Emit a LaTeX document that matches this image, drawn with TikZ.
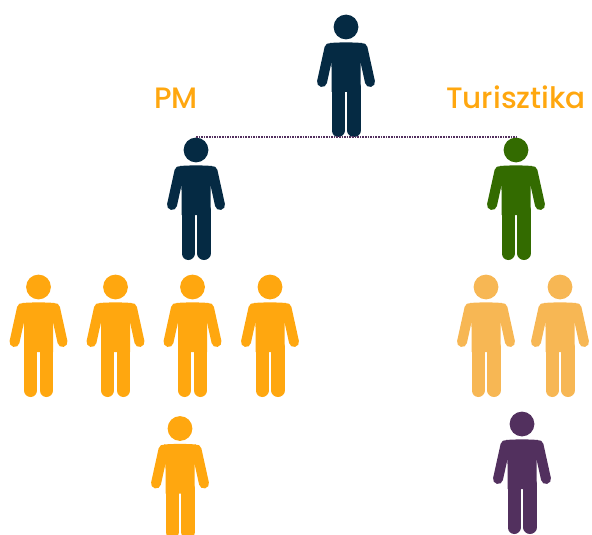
\documentclass[tikz,border=0pt]{standalone}
\usepackage{fontspec}
\setmainfont{Poppins Medium}
\definecolor{navyColor}{RGB}{5, 42, 67}
\definecolor{greenColor}{RGB}{51, 107, 0}
\definecolor{orangeColor}{RGB}{255, 167, 15}
\definecolor{paleColor}{RGB}{247, 183, 84}
\definecolor{purpleColor}{RGB}{82, 48, 94}
\tikzset{
    head/.style={circle, fill=#1, inner sep=0pt, minimum size=24.8pt},
    team/.style={text=orangeColor, font=\fontsize{29.5}{36}\selectfont, inner sep=0pt, anchor=base},
    % one standing figure, origin at the centre of the head
    person/.pic={
        \node[head=#1] (-head) at (0,0) {};
        \fill[#1] (-16,16) .. controls (-6,15.2) and (6,15.2) .. (16,16) -- (14.5,40) -- (14.5,65) -- (-14.5,65) -- (-14.5,40) -- cycle;
        \draw[#1, line width=10pt, line cap=round] (-16.5,21) -- (-24,55);
        \draw[#1, line width=10pt, line cap=round] (16.5,21) -- (24,55);
        \draw[#1, line width=13.1pt, line cap=round] (-7.95,60) -- (-7.95,103.45);
        \draw[#1, line width=13.1pt, line cap=round] (7.95,60) -- (7.95,103.45);
    }
}
\begin{document}
\begin{tikzpicture}[x=1pt, y=-1pt]
    \useasboundingbox (0,0) rectangle (592,535);
    \clip (0,0) rectangle (592,535);
    % Figures
    \pic (boss) at (346,27) {person=navyColor};
    \pic (pmlead) at (196,150) {person=navyColor};
    \pic (turlead) at (516,150) {person=greenColor};
    \foreach \i/\x in {1/38.5, 2/115.5, 3/192.5, 4/270}
        \pic (pm\i) at (\x,287) {person=orangeColor};
    \foreach \i/\x in {1/486, 2/560}
        \pic (tur\i) at (\x,287) {person=paleColor};
    \pic (pmlow) at (180,428.5) {person=orangeColor};
    \pic (turlow) at (522,424) {person=purpleColor};
    % Labels
    \node[team] (pm) at (176,108) {PM};
    \node[team] (tur) at (516,108) {Turisztika};
    \draw[purpleColor, line width=2pt, dash pattern=on 1.6pt off 1pt] (pmlead-head.north) -- (turlead-head.north);
\end{tikzpicture}
\end{document}
